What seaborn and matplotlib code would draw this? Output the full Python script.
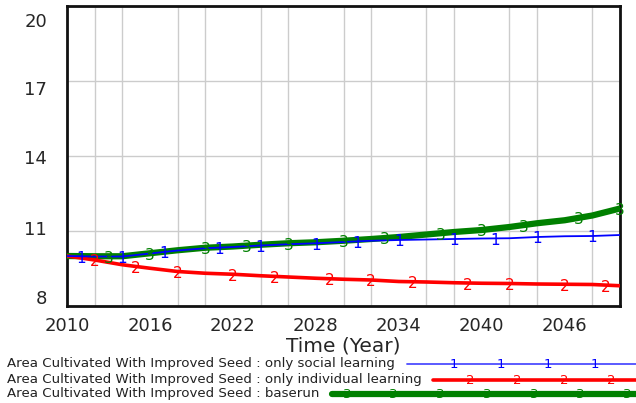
import numpy as np
import pandas as pd
import matplotlib
matplotlib.use("Agg")
import matplotlib.pyplot as plt
from matplotlib.lines import Line2D
from matplotlib.transforms import Affine2D, blended_transform_factory
import seaborn as sns

# ---------------- data ----------------
years = [2010, 2012, 2014, 2016, 2018, 2020, 2022, 2024, 2026, 2028, 2030,
         2032, 2034, 2036, 2038, 2040, 2042, 2044, 2046, 2048, 2050]
social = [10.0, 9.98, 9.98, 10.10, 10.22, 10.31, 10.36, 10.42, 10.47, 10.51, 10.56,
          10.61, 10.64, 10.66, 10.68, 10.70, 10.71, 10.76, 10.79, 10.80, 10.84]
individual = [10.0, 9.84, 9.65, 9.51, 9.38, 9.31, 9.27, 9.21, 9.16, 9.11, 9.07,
              9.04, 8.98, 8.96, 8.93, 8.91, 8.90, 8.88, 8.87, 8.86, 8.81]
baserun = [10.0, 9.99, 9.99, 10.11, 10.23, 10.33, 10.38, 10.45, 10.51, 10.55, 10.61,
           10.68, 10.76, 10.86, 10.96, 11.04, 11.16, 11.31, 11.43, 11.62, 11.90]

series_names = ["Area Cultivated With Improved Seed : only social learning",
                "Area Cultivated With Improved Seed : only individual learning",
                "Area Cultivated With Improved Seed : baserun"]
series_tags = ["1", "2", "3"]
series_colors = ["#0000ff", "#ff0000", "#008000"]

marker_years_social = [2011, 2014, 2017, 2021, 2024, 2028, 2031, 2034, 2038, 2041, 2044, 2048]
marker_years_individual = [2012, 2015, 2018, 2022, 2025, 2029, 2032, 2035, 2039, 2042, 2046, 2049]
marker_years_baserun = [2013, 2016, 2020, 2023, 2026, 2030, 2033, 2037, 2040, 2043, 2047, 2050]

x_ticks = [2010, 2016, 2022, 2028, 2034, 2040, 2046]
y_ticks = [8, 11, 14, 17, 20]
x_label = "Time (Year)"

# ---------------- figure ----------------
sns.set_style("white")
plt.rcParams["font.family"] = ["DejaVu Sans"]

W, H = 636, 403
fig = plt.figure(figsize=(W / 100, H / 100), dpi=100)
ax = fig.add_axes([67 / W, 1 - 306 / H, (620 - 67) / W, (306 - 6) / H])

df = pd.DataFrame({"year": years, "social": social,
                   "individual": individual, "baserun": baserun})

series_vals = [social, individual, baserun]
series_cols = ["social", "individual", "baserun"]
widths = [1.3, 2.6, 4.5]
zorders = [6, 5, 4]
marker_years = [marker_years_social, marker_years_individual, marker_years_baserun]

for col, c, lw, z in zip(series_cols, series_colors, widths, zorders):
    sns.lineplot(data=df, x="year", y=col, ax=ax, color=c, linewidth=lw,
                 zorder=z, legend=False)

# numeric tags along the lines
for vals, tag, c, my, z in zip(series_vals, series_tags, series_colors, marker_years, zorders):
    yy = np.interp(my, years, vals)
    for xm, ym in zip(my, yy):
        ax.text(xm, ym, tag, color=c, fontsize=11, ha="center", va="center",
                zorder=z + 3,
                transform=ax.transData + Affine2D().translate(0, -2))

ax.set_xlim(2010, 2050)
ax.set_ylim(8, 20)
ax.set_xticks(x_ticks)
ax.set_yticks(y_ticks)
ax.set_xticks(np.arange(2010, 2051, 2), minor=True)
ax.tick_params(axis="both", which="both", length=0, labelbottom=False, labelleft=False)
ax.grid(True, which="major", axis="y", color="#cccccc", linewidth=1.0)
ax.grid(True, which="minor", axis="x", color="#cccccc", linewidth=1.0)
ax.grid(False, which="major", axis="x")
ax.set_axisbelow(True)
for s in ax.spines.values():
    s.set_visible(True)
    s.set_color("#111111")
    s.set_linewidth(2.0)
ax.set_xlabel("")
ax.set_ylabel("")

# tick labels (Vensim-style placement)
tx = blended_transform_factory(ax.transData, ax.transAxes)
for v in x_ticks:
    ax.text(v, 0, str(v), fontsize=13, ha="center", va="baseline", clip_on=False,
            transform=tx + Affine2D().translate(0, -25))
ty = blended_transform_factory(ax.transAxes, ax.transData)
y_label_shift = [2, -4, -8, -14, -20.6]  # pixel shift of each label baseline
for v, sh in zip(y_ticks, y_label_shift):
    ax.text(0, v, str(v), fontsize=13, ha="right", va="baseline", clip_on=False,
            transform=ty + Affine2D().translate(-20, sh))

fig.text((67 + 620) / 2 / W, 1 - 352 / H, x_label, fontsize=14.5,
         ha="center", va="baseline")

# ---------------- legend (Vensim style) ----------------
px = lambda x, y: (x / W, 1 - y / H)
rows_y = [364, 380, 394]
line_start = [407, 433, 332]
tag_start = [454, 470, 347]
tag_step = [47, 47, 46.7]
leg_widths = [1.3, 2.6, 4.5]
leg_colors = ["#4d4dff", "#ff0000", "#008000"]
for name, tag, c, lc, y, ls, ts, st, lw in zip(series_names, series_tags, series_colors,
                                               leg_colors, rows_y, line_start, tag_start,
                                               tag_step, leg_widths):
    fig.text(*px(7, y), name, fontsize=9.6, ha="left", va="center", color="#222222")
    x0, y0 = px(ls, y)
    x1, _ = px(W, y)
    fig.add_artist(Line2D([x0, x1], [y0, y0], color=lc, linewidth=lw))
    xt = ts
    while xt < W:
        fig.text(*px(xt, y + 1), tag, fontsize=9.5, ha="center", va="center", color=c)
        xt += st

fig.savefig("out.png", dpi=100)
